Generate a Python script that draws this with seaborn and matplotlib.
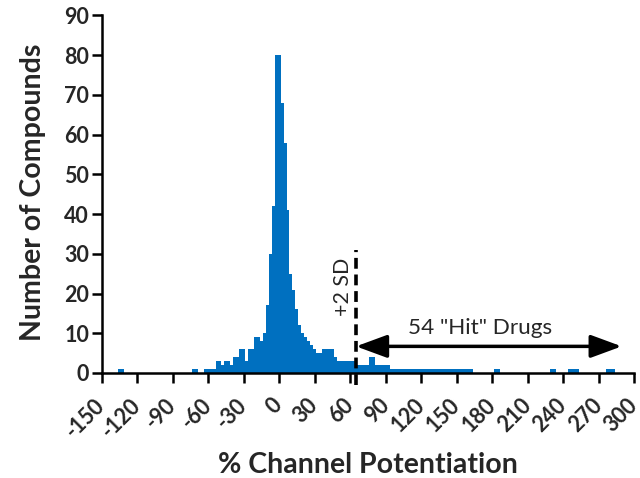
import numpy as np
import pandas as pd
import matplotlib
matplotlib.use("Agg")
import matplotlib.pyplot as plt
import seaborn as sns

# ---- data ----
bin_width = 2.5
bin_centers = [-135, -132.5, -72.5, -70, -62.5, -60, -57.5, -55, -52.5, -50,
               -47.5, -45, -42.5, -40, -37.5, -35, -32.5, -30, -27.5, -25,
               -22.5, -20, -17.5, -15, -12.5, -10, -7.5, -5, -2.5, 0,
               2.5, 5, 7.5, 10, 12.5, 15, 17.5, 20, 22.5, 25,
               27.5, 30, 32.5, 35, 37.5, 40, 42.5, 45, 47.5, 50,
               52.5, 55, 57.5, 60, 62.5, 65, 67.5, 70, 72.5, 75,
               77.5, 80, 82.5, 85, 87.5, 90, 92.5, 95, 97.5, 100,
               102.5, 105, 107.5, 110, 112.5, 115, 117.5, 120, 122.5, 125,
               127.5, 130, 132.5, 135, 137.5, 140, 142.5, 145, 147.5, 150,
               152.5, 155, 157.5, 160, 162.5, 182.5, 185, 230, 232.5, 245,
               247.5, 250, 252.5, 277.5, 280, 282.5]
counts = [1, 1, 1, 1, 1, 1, 1, 1, 3, 3,
          2, 3, 3, 2, 4, 4, 6, 6, 3, 6,
          6, 9, 9, 8, 10, 17, 30, 42, 80, 80,
          68, 58, 41, 25, 21, 16, 12, 10, 9, 8,
          7, 6, 5, 5, 6, 6, 6, 6, 4, 3,
          3, 3, 3, 3, 3, 2, 2, 2, 2, 2,
          4, 4, 2, 2, 2, 2, 2, 1, 1, 1,
          1, 1, 1, 1, 1, 1, 1, 1, 1, 1,
          1, 1, 1, 1, 1, 1, 1, 1, 1, 1,
          1, 1, 1, 1, 1, 1, 1, 1, 1, 1,
          1, 1, 1, 1, 1, 1]

sd2_threshold = 65
hit_label = '54 "Hit" Drugs'
sd_label = "+2 SD"
x_ticks = list(range(-150, 301, 30))
y_ticks = list(range(0, 91, 10))
x_label = "% Channel Potentiation"
y_label = "Number of Compounds"

df = pd.DataFrame({"potentiation": bin_centers, "n": counts})

sns.set_style("ticks")
plt.rcParams["font.family"] = ["Lato", "DejaVu Sans"]

fig = plt.figure(figsize=(6.4, 4.78), dpi=100)
ax = fig.add_axes([0.1588, 0.2197, 0.832, 0.748])

edges = [float(e) for e in np.arange(-150 - bin_width / 2, 300 + bin_width, bin_width)]
sns.histplot(data=df, x="potentiation", weights="n", bins=edges,
             color="#0070C0", alpha=1, linewidth=0, ax=ax)

ax.set_xlim(-150, 300)
ax.set_ylim(0, 90)
ax.set_xticks(x_ticks)
ax.set_yticks(y_ticks)
ax.set_xticklabels([str(t) for t in x_ticks], rotation=45, ha="right",
                   va="center", rotation_mode="anchor", fontsize=15.5,
                   fontweight="bold")
ax.set_yticklabels([str(t) for t in y_ticks], fontsize=15.5, fontweight="bold")
ax.tick_params(axis="both", direction="out", length=7, width=1.8, color="black")
ax.tick_params(axis="x", pad=14)
ax.tick_params(axis="y", pad=2)
for side in ["top", "right"]:
    ax.spines[side].set_visible(False)
for side in ["left", "bottom"]:
    ax.spines[side].set_linewidth(1.8)
    ax.spines[side].set_color("black")

ax.set_xlabel(x_label, fontsize=20.5, fontweight="bold")
ax.set_ylabel(y_label, fontsize=20.5, fontweight="bold")
ax.xaxis.set_label_coords(0.5, -0.221)
ax.yaxis.set_label_coords(-0.105, 0.505)

# +2 SD dashed line
ax.plot([sd2_threshold, sd2_threshold], [-3, 31], color="black", lw=2.6,
        ls=(0, (3, 1.6)), clip_on=False, zorder=5)
ax.text(54, 21.8, sd_label, rotation=90, ha="center",
        va="center", fontsize=15.4)

# double-headed arrow
ax.annotate("", xy=(sd2_threshold, 6.7), xytext=(289.5, 6.7),
            arrowprops=dict(arrowstyle="<|-|>,head_length=1.9,head_width=0.7",
                            mutation_scale=10, lw=2.5, color="black",
                            shrinkA=0, shrinkB=0), zorder=6)
ax.text(170, 11.3, hit_label, ha="center", va="center", fontsize=16.2)

fig.savefig("out.png", dpi=100)
